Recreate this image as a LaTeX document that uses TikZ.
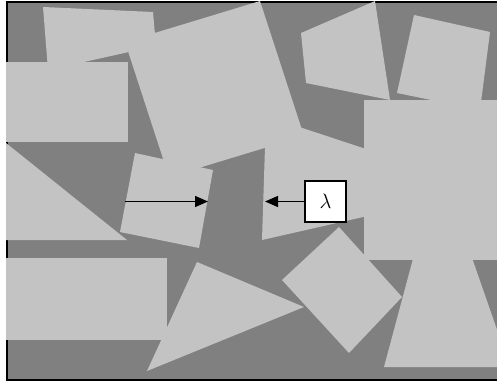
\documentclass[tikz,border=0pt]{standalone}
\usetikzlibrary{arrows.meta}
\definecolor{groundgray}{HTML}{808080}
\definecolor{tilegray}{HTML}{C3C3C3}
\begin{document}
\begin{tikzpicture}[x=1pt,y=-1pt,
  tile/.style={fill=tilegray},
  pointer/.style={line width=1.4pt,-{Triangle[length=13pt,width=11pt]}},
  labelbox/.style={draw,fill=white,line width=1.6pt,minimum width=41pt,
    minimum height=41pt,inner sep=0pt,font=\fontsize{21}{23}\selectfont}]
\useasboundingbox (0,0) rectangle (497,382);
\clip (0,0) rectangle (497,382);
\fill[white] (0,0) rectangle (497,382);
% dark ground and its frame
\fill[groundgray] (7,2) rectangle (510,380);
\draw[line width=1.6pt] (510,2) -- (7,2) -- (7,380) -- (510,380);
% light tiles
\fill[tile] (43,7) -- (153,12) -- (156,46) -- (48,70) -- cycle;
\fill[tile] (260,1) -- (304,136) -- (169,177) -- (125,42) -- cycle;
\fill[tile] (6,62) rectangle (128,142);
\fill[tile] (6,143) -- (127,240) -- (6,240) -- cycle;
\fill[tile] (6,258) rectangle (167,340);
\fill[tile] (135,153) -- (213,170) -- (199,248) -- (120,232) -- cycle;
\fill[tile] (266,116) -- (372,151) -- (372,215) -- (262,240) -- cycle;
\fill[tile] (364,100) rectangle (510,260);
\fill[tile] (414,255) -- (471,255) -- (510,367) -- (384,367) -- cycle;
\fill[tile] (339,227) -- (402,297) -- (349,353) -- (282,280) -- cycle;
\fill[tile] (197,262) -- (304,307) -- (147,371) -- cycle;
\fill[tile] (375,1) -- (390,100) -- (306,83) -- (301,33) -- cycle;
\fill[tile] (414,15) -- (490,32) -- (480,110) -- (397,93) -- cycle;
% label box and the two pointers
\node[labelbox] (lam) at (325.5,201.5) {$\lambda$};
\coordinate (tailA) at (125,201.5);
\coordinate (tipA) at (208,201.5);
\coordinate (tipB) at (265,201.5);
\draw[pointer] (tailA) -- (tipA);
\draw[pointer] (lam.west) -- (tipB);
\end{tikzpicture}
\end{document}
